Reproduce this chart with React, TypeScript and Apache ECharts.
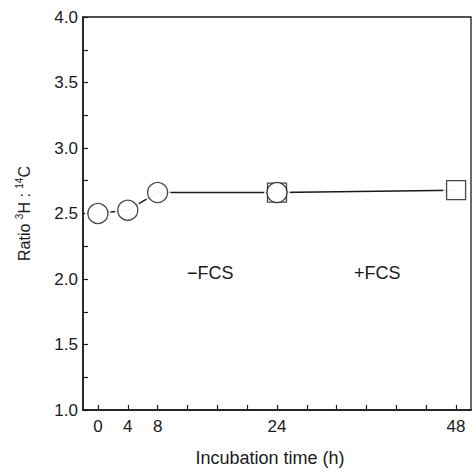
import React, { useEffect, useRef } from "react";
import * as echarts from "echarts";

const xTickValues = [0, 4, 8, 12, 16, 20, 24, 28, 32, 36, 40, 44, 48];
const xLabelValues = [0, 4, 8, 24, 48];
const allTimes = [0, 4, 8, 24, 48];
const allRatios = [2.5, 2.525, 2.66, 2.66, 2.678];
const circleTimes = [0, 4, 8, 24];
const circleRatios = [2.5, 2.525, 2.66, 2.66];
const squareTimes = [24, 48];
const squareRatios = [2.66, 2.678];
const annotations = ["\u2212FCS", "+FCS"];

const FONT = "'Liberation Sans', Arial, Helvetica, sans-serif";
const INK = "#1a1a1a";

export default function App() {
  const ref = useRef<HTMLDivElement>(null);
  useEffect(() => {
    if (!ref.current) return;
    const chart = echarts.init(ref.current, null, { renderer: "svg" });
    const zip = (xs: number[], ys: number[]) => xs.map((x, i) => [x, ys[i]]);
    chart.setOption({
      animation: false,
      backgroundColor: "#fff",
      textStyle: { fontFamily: FONT, color: INK },
      grid: {
        left: 83,
        right: 5,
        top: 17,
        bottom: 59,
        show: true,
        borderColor: INK,
        borderWidth: 1.3,
        backgroundColor: "transparent",
      },
      xAxis: {
        type: "value",
        min: -2,
        max: 50,
        name: "Incubation time (h)",
        nameLocation: "middle",
        nameGap: 39,
        nameTextStyle: { fontSize: 18, color: INK, fontFamily: FONT, padding: [0, 14, 0, 0] },
        axisLine: { show: true, onZero: false, lineStyle: { color: INK, width: 1.6 } },
        axisTick: { show: true, inside: true, length: 5, customValues: xTickValues, lineStyle: { color: INK, width: 1.2 } },
        axisLabel: { customValues: xLabelValues, fontSize: 17, color: INK, fontFamily: FONT, margin: 8 },
        splitLine: { show: false },
      },
      yAxis: {
        type: "value",
        min: 1,
        max: 4,
        interval: 0.5,
        name: "Ratio {sup|3}H : {sup|14}C",
        nameLocation: "middle",
        nameRotate: 90,
        nameGap: 49,
        nameTextStyle: {
          fontSize: 16,
          color: INK,
          fontFamily: FONT,
          lineHeight: 20,
          rich: {
            sup: { fontSize: 10, fontFamily: FONT, color: INK, verticalAlign: "top", lineHeight: 10, padding: [0, 0, 6, 0] },
          },
        },
        axisLine: { show: true, onZero: false, lineStyle: { color: INK, width: 1.6 } },
        axisTick: { show: true, inside: true, length: 5, lineStyle: { color: INK, width: 1.2 } },
        minorTick: { show: true, splitNumber: 2, length: 5, lineStyle: { color: INK, width: 1.2 } },
        axisLabel: {
          fontSize: 17,
          color: INK,
          fontFamily: FONT,
          margin: 5,
          formatter: (v: number) => v.toFixed(1),
        },
        splitLine: { show: false },
      },
      graphic: [
        { type: "text", left: 187, top: 264, style: { text: annotations[0], font: `18px ${FONT}`, fill: INK } },
        { type: "text", left: 354, top: 264, style: { text: annotations[1], font: `18px ${FONT}`, fill: INK } },
      ],
      series: [
        {
          type: "line",
          data: zip(allTimes, allRatios),
          showSymbol: false,
          symbol: "none",
          lineStyle: { color: INK, width: 1.5 },
          z: 2,
        },
        {
          type: "scatter",
          data: zip(allTimes, allRatios),
          symbol: "circle",
          symbolSize: 26,
          itemStyle: { color: "#fff", borderWidth: 0 },
          z: 3,
          silent: true,
        },
        {
          type: "scatter",
          data: zip(squareTimes, squareRatios),
          symbol: "rect",
          symbolSize: 19,
          itemStyle: { color: "#fff", borderColor: INK, borderWidth: 1.3 },
          z: 4,
        },
        {
          type: "scatter",
          data: zip(circleTimes, circleRatios),
          symbol: "circle",
          symbolSize: 20,
          itemStyle: { color: "#fff", borderColor: INK, borderWidth: 1.3 },
          z: 5,
        },
      ],
    });
    return () => chart.dispose();
  }, []);
  return <div ref={ref} style={{ width: 476, height: 472, position: "absolute", left: 0, top: 0 }} />;
}
